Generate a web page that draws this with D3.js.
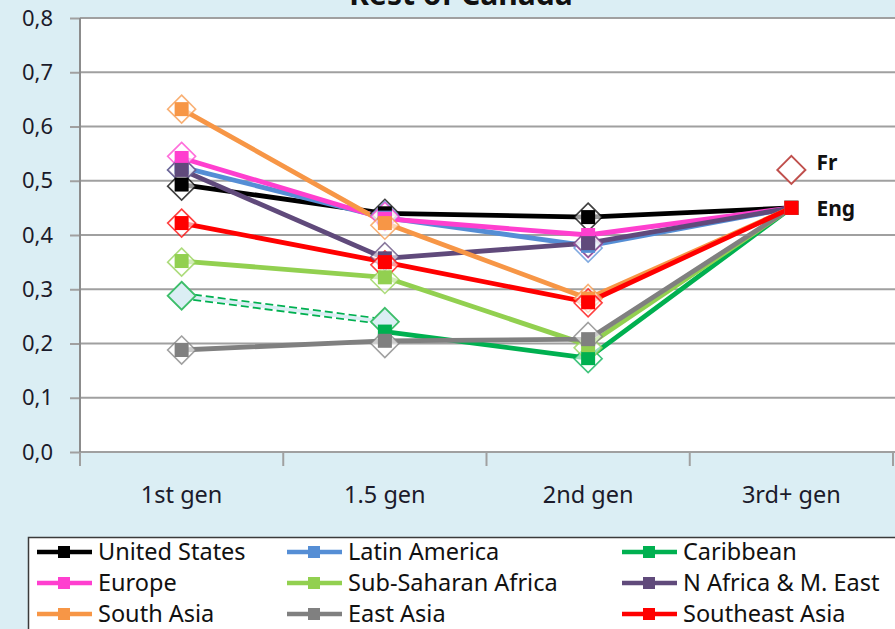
<!DOCTYPE html>
<html>
<head>
<meta charset="utf-8">
<script src="https://cdn.jsdelivr.net/npm/d3@7"></script>
<style>
  body { margin: 0; background: #DBEEF4; }
  svg { display: block; }
</style>
</head>
<body>
<div id="chart"></div>
<script>
const categories = ["1st gen", "1.5 gen", "2nd gen", "3rd+ gen"];
const seriesNames = ["United States", "Latin America", "Caribbean", "Europe", "Sub-Saharan Africa",
  "N Africa & M. East", "South Asia", "East Asia", "Southeast Asia"];
const seriesColors = ["#000000", "#558ED5", "#00B050", "#FF3FCF", "#92D050",
  "#604A7B", "#F79646", "#808080", "#FF0000"];

// solid lines with square markers
const lineValues = [
  [0.493, 0.440, 0.433, 0.45],
  [0.525, 0.432, 0.380, 0.45],
  [null, 0.222, 0.173, 0.45],
  [0.542, 0.430, 0.400, 0.45],
  [0.352, 0.322, 0.197, 0.45],
  [0.520, 0.357, 0.385, 0.45],
  [0.632, 0.422, 0.283, 0.45],
  [0.188, 0.205, 0.208, 0.45],
  [0.422, 0.350, 0.276, 0.45]
];

// hollow diamonds (first three generations)
const diamondValues = [
  [0.490, 0.440, 0.433],
  [0.520, 0.436, 0.376],
  [null, null, 0.172],
  [0.545, 0.434, 0.384],
  [0.350, 0.318, 0.192],
  [0.520, 0.360, 0.385],
  [0.632, 0.418, 0.283],
  [0.188, 0.200, 0.213],
  [0.422, 0.345, 0.275]
];

// Caribbean dashed segment
const caribbeanDashed = [0.288, 0.240];

const langLabels = ["Fr", "Eng"];
const langValues = [0.52, 0.45];

const yTicks = [0, 0.1, 0.2, 0.3, 0.4, 0.5, 0.6, 0.7, 0.8];

const width = 895, height = 629;
const margin = { left: 80, right: 2, top: 18, bottom: 177 };
const bg = "#DBEEF4";
const gridColor = "#A0A0A0";

const svg = d3.select("#chart").append("svg")
  .attr("width", width)
  .attr("height", height)
  .style("font-family", "'Noto Sans', sans-serif");

svg.append("rect").attr("width", width).attr("height", height).attr("fill", bg);

const x = d3.scaleBand()
  .domain(categories)
  .range([margin.left, width - margin.right]);
const y = d3.scaleLinear()
  .domain([0, 0.8])
  .range([height - margin.bottom, margin.top]);

const cx = c => x(c) + x.bandwidth() / 2;

// plot area
svg.append("rect")
  .attr("x", margin.left).attr("y", margin.top)
  .attr("width", width - margin.right - margin.left + 2)
  .attr("height", y(0) - margin.top)
  .attr("fill", "#fff");

// title (cut off at top, as in the original)
svg.append("text")
  .attr("x", 461).attr("y", 5)
  .attr("text-anchor", "middle")
  .style("font-size", "30px")
  .style("font-weight", "700")
  .style("fill", "#111")
  .text("Rest of Canada");

// gridlines + y axis
const yAxis = svg.append("g")
  .attr("transform", `translate(${margin.left},0)`)
  .call(d3.axisLeft(y)
    .tickValues(yTicks)
    .tickSize(10)
    .tickPadding(17)
    .tickFormat(d => d.toFixed(1).replace(".", ",")));
yAxis.select(".domain").remove();
yAxis.selectAll(".tick line").attr("stroke", gridColor).attr("stroke-width", 2);
yAxis.selectAll(".tick text")
  .style("font-size", "22px")
  .style("fill", "#1b1b2b")
  .style("font-family", "'Noto Sans', sans-serif");

svg.append("g")
  .selectAll("line")
  .data(yTicks)
  .join("line")
  .attr("x1", margin.left).attr("x2", width)
  .attr("y1", d => y(d)).attr("y2", d => y(d))
  .attr("stroke", gridColor)
  .attr("stroke-width", 2);

svg.append("line")
  .attr("x1", margin.left).attr("x2", margin.left)
  .attr("y1", margin.top).attr("y2", y(0))
  .attr("stroke", "#8c8c8c").attr("stroke-width", 2);

// x axis: ticks at band boundaries, labels at centers
const boundaries = categories.map(c => x(c)).concat([x.range()[1]]);
svg.append("g")
  .selectAll("line")
  .data(boundaries)
  .join("line")
  .attr("x1", d => d).attr("x2", d => d)
  .attr("y1", y(0)).attr("y2", y(0) + 14)
  .attr("stroke", gridColor).attr("stroke-width", 2);

svg.append("g")
  .selectAll("text")
  .data(categories)
  .join("text")
  .attr("x", d => cx(d))
  .attr("y", y(0) + 51)
  .attr("text-anchor", "middle")
  .style("font-size", "23.5px")
  .style("fill", "#1b1b2b")
  .text(d => d);

// Caribbean dashed segment
const dashedLine = d3.line()
  .x((d, i) => cx(categories[i]))
  .y(d => y(d));
svg.append("path")
  .attr("d", dashedLine(caribbeanDashed))
  .attr("fill", "none")
  .attr("stroke", "#00B050")
  .attr("stroke-width", 7)
  .attr("stroke-dasharray", "8,4");
svg.append("path")
  .attr("d", dashedLine(caribbeanDashed))
  .attr("fill", "none")
  .attr("stroke", bg)
  .attr("stroke-width", 3.5);

const diamond = (px, py, r) => `M${px},${py - r}L${px + r},${py}L${px},${py + r}L${px - r},${py}Z`;

svg.append("g")
  .selectAll("path")
  .data(caribbeanDashed)
  .join("path")
  .attr("d", (d, i) => diamond(cx(categories[i]), y(d), 14))
  .attr("fill", bg)
  .attr("stroke", "#3DBE6A")
  .attr("stroke-width", 1.8);

// solid lines
const line = d3.line()
  .defined(d => d != null)
  .x((d, i) => cx(categories[i]))
  .y(d => y(d));

const lines = svg.append("g");
lineValues.forEach((vals, s) => {
  lines.append("path")
    .attr("d", line(vals))
    .attr("fill", "none")
    .attr("stroke", seriesColors[s])
    .attr("stroke-width", 4.8)
    .attr("stroke-linejoin", "round");
});

// diamonds
const diamonds = svg.append("g");
diamondValues.forEach((vals, s) => {
  diamonds.selectAll(null)
    .data(vals.map((v, i) => ({ v, i })).filter(d => d.v != null))
    .join("path")
    .attr("d", d => diamond(cx(categories[d.i]), y(d.v), 14))
    .attr("fill", "#fff")
    .attr("fill-opacity", 0.6)
    .attr("stroke", seriesColors[s])
    .attr("stroke-opacity", 0.75)
    .attr("stroke-width", 1.6);
});

// square markers
const squares = svg.append("g");
lineValues.forEach((vals, s) => {
  squares.selectAll(null)
    .data(vals.map((v, i) => ({ v, i })).filter(d => d.v != null))
    .join("rect")
    .attr("x", d => cx(categories[d.i]) - 7)
    .attr("y", d => y(d.v) - 7)
    .attr("width", 14).attr("height", 14)
    .attr("fill", seriesColors[s]);
});

// Fr / Eng
const last = categories[categories.length - 1];
svg.append("path")
  .attr("d", diamond(cx(last), y(langValues[0]), 14))
  .attr("fill", "#fff")
  .attr("stroke", "#C0504D")
  .attr("stroke-width", 2);
svg.append("g")
  .selectAll("text")
  .data(langLabels)
  .join("text")
  .attr("x", cx(last) + 25)
  .attr("y", (d, i) => y(langValues[i]) + 8 - (i === 0 ? 8 : 0))
  .style("font-size", "21px")
  .style("font-weight", "700")
  .style("fill", "#111")
  .text(d => d);

// legend
const legendCols = [37, 287, 622];
const legendRows = [552, 583, 614];
svg.append("rect")
  .attr("x", 28.5).attr("y", 537.5)
  .attr("width", 880).attr("height", 120)
  .attr("fill", "#fff")
  .attr("stroke", "#3a3a3a")
  .attr("stroke-width", 1.5);

const legend = svg.append("g");
seriesNames.forEach((name, i) => {
  const lx = legendCols[i % 3];
  const ly = legendRows[Math.floor(i / 3)];
  const g = legend.append("g").attr("transform", `translate(${lx},${ly})`);
  g.append("line")
    .attr("x1", 0).attr("x2", 55)
    .attr("stroke", seriesColors[i])
    .attr("stroke-width", 4.5);
  g.append("rect")
    .attr("x", 21).attr("y", -6)
    .attr("width", 12).attr("height", 12)
    .attr("fill", seriesColors[i]);
  g.append("text")
    .attr("x", 61).attr("y", 8)
    .style("font-size", "23.5px")
    .style("fill", "#111")
    .text(name);
});
</script>
</body>
</html>
